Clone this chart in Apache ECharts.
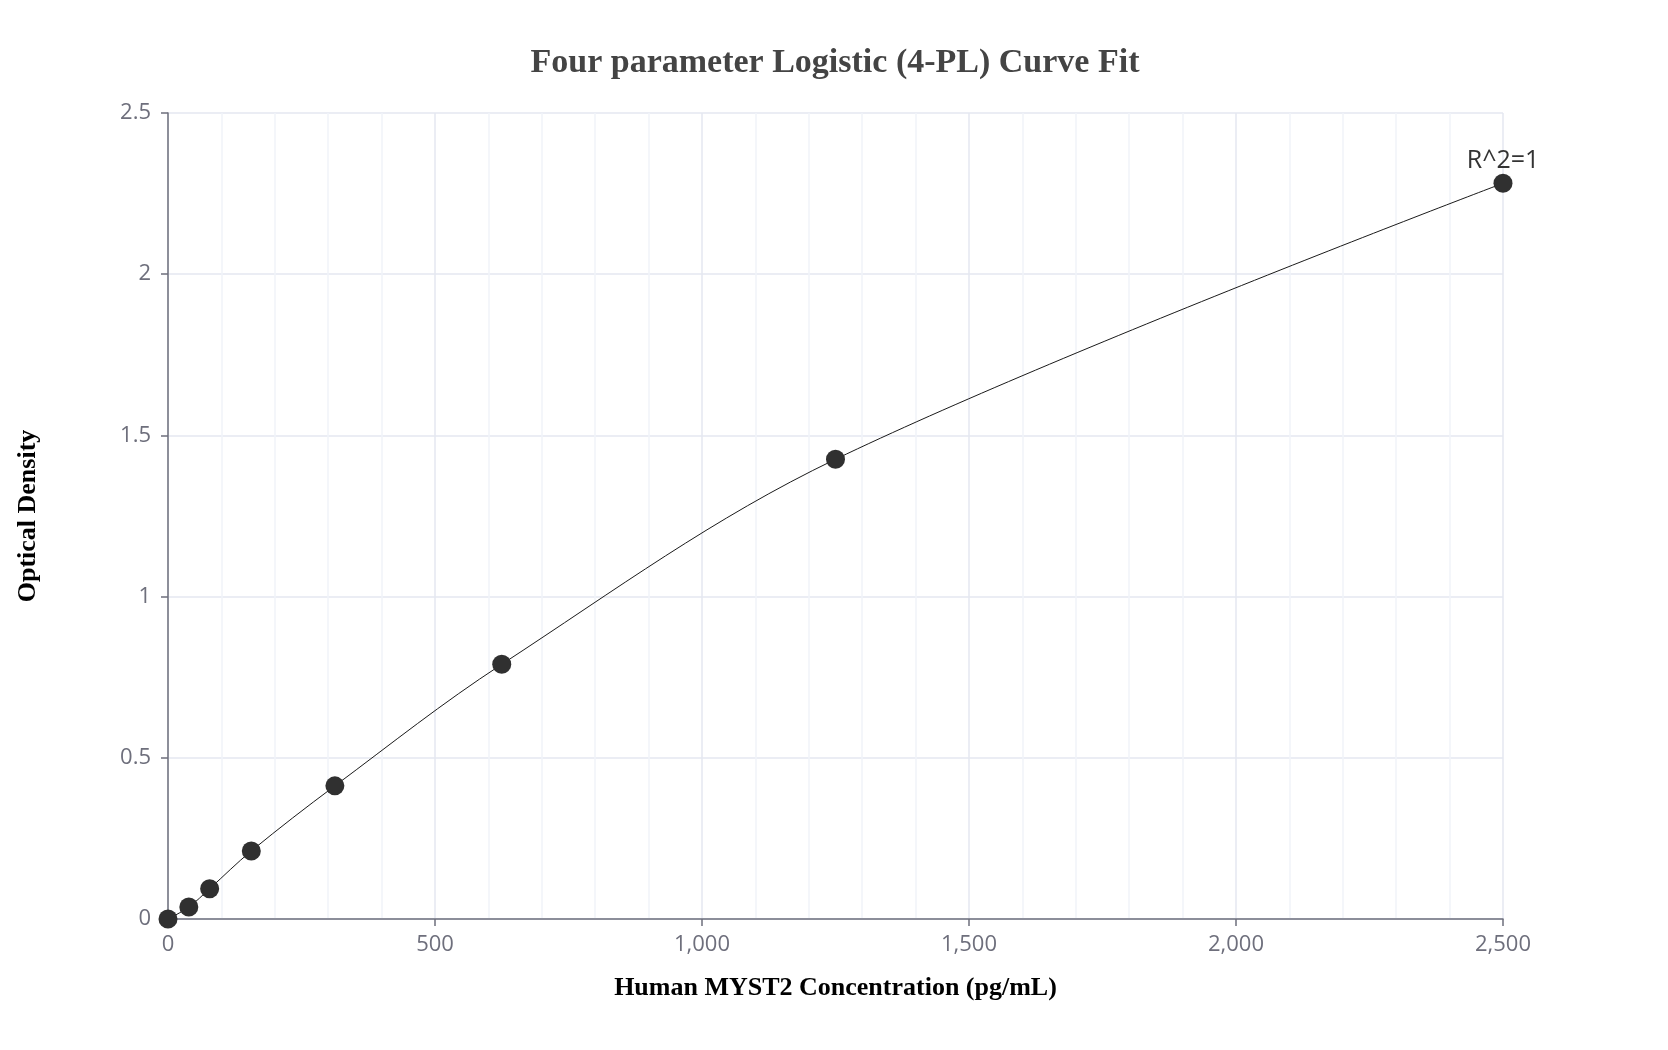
<!DOCTYPE html>
<html>
<head>
<meta charset="utf-8">
<script src="https://cdn.jsdelivr.net/npm/echarts@6/dist/echarts.min.js"></script>
<style>
  html, body { margin: 0; padding: 0; background: #fff; }
  #chart { width: 1668px; height: 1050px; }
</style>
</head>
<body>
<div id="chart"></div>
<script>
// standard points (pg/mL) and the measured OD
var concentrations = [0, 39, 78, 156, 312.5, 625, 1250, 2500]
var opticalDensity = [0.0, 0.037, 0.094, 0.211, 0.413, 0.79, 1.426, 2.282]
var xTicks = [0, 500, 1000, 1500, 2000, 2500]
var yTicks = [0, 0.5, 1, 1.5, 2, 2.5]
var fitLabel = 'R^2=1'

var myChart = echarts.init(document.getElementById('chart'))

var points = concentrations.map(function (c, i) {
  var item = { value: [c, opticalDensity[i]] }
  // the R^2 note sits over the last standard
  if (i === concentrations.length - 1) {
    item.label = { show: true }
  }
  return item
})

var tickColor = '#6e6f7c'

var option = {
  animation: false,
  backgroundColor: '#ffffff',
  title: {
    text: 'Four parameter Logistic (4-PL) Curve Fit',
    left: 830,
    textAlign: 'center',
    top: 41,
    textStyle: {
      fontFamily: 'Liberation Serif',
      fontWeight: 'bold',
      fontSize: 34,
      color: '#444444'
    }
  },
  grid: {
    left: 168,
    right: 165,
    top: 113,
    bottom: 131
  },
  xAxis: {
    type: 'value',
    min: xTicks[0],
    max: xTicks[xTicks.length - 1],
    interval: xTicks[1] - xTicks[0],
    name: 'Human MYST2 Concentration (pg/mL)',
    nameLocation: 'middle',
    nameGap: 56,
    nameTextStyle: {
      fontFamily: 'Liberation Serif',
      fontWeight: 'bold',
      fontSize: 26,
      color: '#000000'
    },
    axisLine: { show: true, lineStyle: { color: tickColor, width: 1.5 } },
    axisTick: { show: true, length: 7, lineStyle: { color: tickColor, width: 1.5 } },
    axisLabel: {
      fontFamily: 'Open Sans',
      fontSize: 22,
      color: tickColor,
      margin: 15,
      formatter: function (v) { return v.toLocaleString('en-US') }
    },
    splitLine: { show: true, lineStyle: { color: '#e4e7f1', width: 1.5 } },
    minorTick: { show: false, splitNumber: 5 },
    minorSplitLine: { show: true, lineStyle: { color: '#f1f3f9', width: 1.5 } }
  },
  yAxis: {
    type: 'value',
    min: yTicks[0],
    max: yTicks[yTicks.length - 1],
    interval: yTicks[1] - yTicks[0],
    name: 'Optical Density',
    nameLocation: 'middle',
    nameGap: 127,
    nameTextStyle: {
      fontFamily: 'Liberation Serif',
      fontWeight: 'bold',
      fontSize: 26,
      color: '#000000'
    },
    axisLine: { show: true, lineStyle: { color: tickColor, width: 1.5 } },
    axisTick: { show: true, length: 7, lineStyle: { color: tickColor, width: 1.5 } },
    axisLabel: {
      fontFamily: 'Open Sans',
      fontSize: 22,
      color: tickColor,
      margin: 17
    },
    splitLine: { show: true, lineStyle: { color: '#e4e7f1', width: 1.5 } }
  },
  series: [
    {
      type: 'line',
      data: points,
      smooth: 0.35,
      symbol: 'circle',
      symbolSize: 19,
      itemStyle: { color: '#303030' },
      lineStyle: { color: '#1a1a1a', width: 1 },
      label: {
        show: false,
        position: 'top',
        distance: 0,
        formatter: fitLabel,
        fontFamily: 'Open Sans',
        fontSize: 25,
        color: '#333333'
      },
      z: 3
    }
  ]
}

myChart.setOption(option)
</script>
</body>
</html>
